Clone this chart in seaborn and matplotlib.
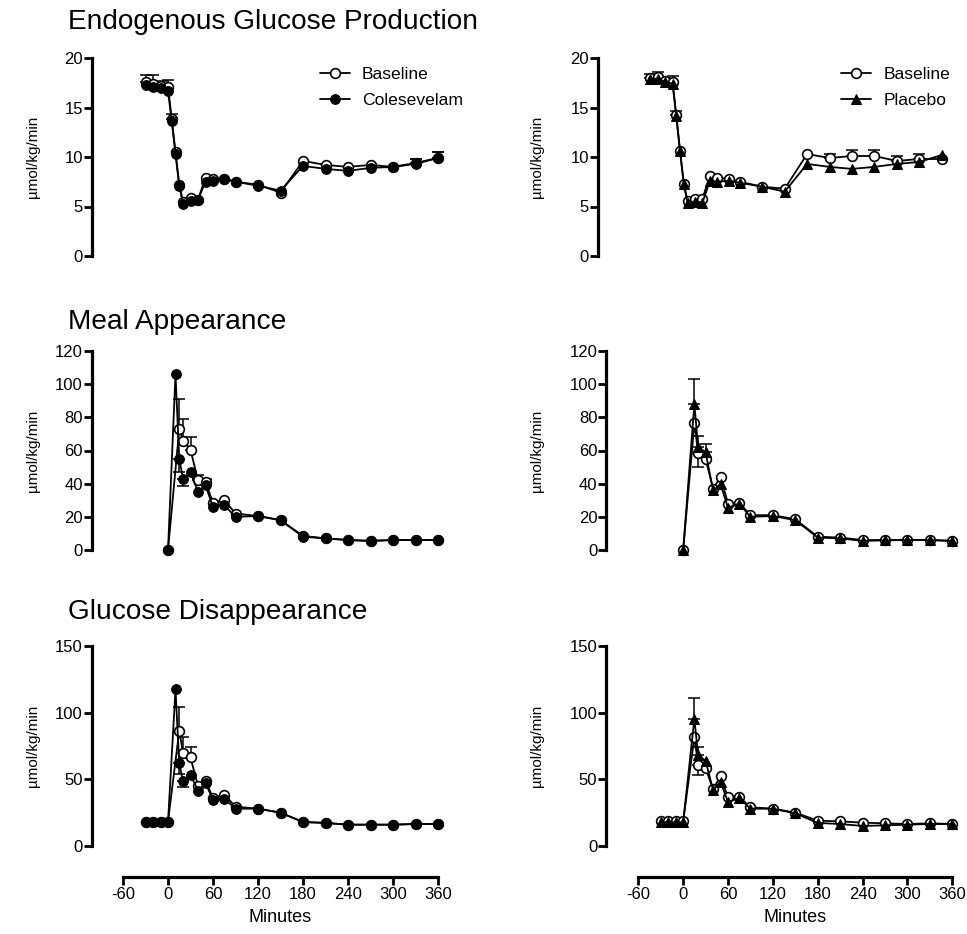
import numpy as np
import pandas as pd
import matplotlib
matplotlib.use("Agg")
import matplotlib.pyplot as plt
import seaborn as sns

# ---------------- data ----------------
t_egp = [-30, -20, -10, 0, 5, 10, 15, 20, 30, 40, 50, 60, 75, 90, 120, 150, 180, 210, 240, 270, 300, 330, 360]
egp_base_L = [17.6, 17.4, 17.2, 17.1, 13.8, 10.5, 7.2, 5.5, 5.9, 5.7, 7.9, 7.8, 7.8, 7.5, 7.2, 6.4, 9.6, 9.2, 9.0, 9.2, 9.0, 9.4, 9.9]
egp_base_L_err = [0.7, 0.9, 0.5, 0.7, 0.5, 0, 0, 0, 0, 0, 0, 0, 0, 0, 0, 0, 0, 0, 0, 0, 0, 0.4, 0.6]
egp_cole = [17.3, 17.1, 17.0, 16.7, 13.6, 10.3, 7.1, 5.3, 5.6, 5.7, 7.5, 7.6, 7.8, 7.5, 7.1, 6.6, 9.1, 8.8, 8.6, 8.9, 9.0, 9.3, 9.9]
egp_cole_err = [0] * 21 + [0.5, 0.6]

egp_base_R = [18.0, 18.1, 17.7, 17.6, 14.2, 10.6, 7.3, 5.6, 5.8, 5.8, 8.1, 7.9, 7.8, 7.5, 7.0, 6.8, 10.3, 9.9, 10.1, 10.1, 9.6, 9.8, 9.8]
egp_base_R_err = [0.4, 0.45, 0.3, 0.6, 0.4, 0, 0, 0, 0, 0, 0, 0, 0, 0, 0, 0, 0, 0.4, 0.6, 0.6, 0.5, 0.5, 0]
egp_plac = [17.9, 17.9, 17.6, 17.4, 14.1, 10.6, 7.3, 5.4, 5.5, 5.4, 7.6, 7.5, 7.6, 7.4, 7.0, 6.5, 9.3, 9.0, 8.8, 9.0, 9.3, 9.5, 10.2]

t_meal_cole = [0, 10, 15, 20, 30, 40, 50, 60, 75, 90, 120, 150, 180, 210, 240, 270, 300, 330, 360]
meal_cole = [0, 106, 55, 43, 47, 35, 39, 26, 27, 20, 20.5, 18, 8, 7, 6, 5.5, 6, 6, 6]
meal_cole_err_lo = [0, 0, 8, 4.5, 0, 0, 0, 0, 0, 0, 0, 0, 0, 0, 0, 0, 0, 0, 0]
t_meal_base_L = [0, 15, 20, 30, 40, 50, 60, 75, 90, 120, 150, 180, 210, 240, 270, 300, 330, 360]
meal_base_L = [0, 73, 66, 60.5, 42, 41, 28.5, 30, 22, 20.5, 18, 8.5, 7, 6, 5.5, 6, 6, 6]
meal_base_L_err = [0, 18, 13, 7.5, 3, 2, 0, 0, 0, 0, 0, 0, 0, 0, 0, 0, 0, 0]

t_meal_R = [0, 15, 20, 30, 40, 50, 60, 75, 90, 120, 150, 180, 210, 240, 270, 300, 330, 360]
meal_base_R = [0, 76.5, 58.5, 55, 37, 44, 28, 28.5, 21, 21, 18.5, 8, 7.5, 6, 6, 6.2, 6, 5.5]
meal_base_R_err_lo = [0, 0, 8.5, 0, 0, 0, 0, 0, 0, 0, 0, 0, 0, 0, 0, 0, 0, 0]
meal_plac = [0, 88, 62, 59, 36, 39.5, 25.5, 28, 20, 20.5, 18, 7.5, 7, 5.5, 5.8, 6, 6, 5.5]
meal_plac_err = [0, 15, 7, 5, 0, 0, 0, 0, 0, 0, 0, 0, 0, 0, 0, 0, 0, 0]

t_dis_cole = [-30, -20, -10, 0, 10, 15, 20, 30, 40, 50, 60, 75, 90, 120, 150, 180, 210, 240, 270, 300, 330, 360]
dis_cole = [18, 18, 18, 18, 117.5, 62, 48.5, 53.5, 41.5, 47, 34.8, 35.5, 28, 28, 25, 18, 17.3, 16, 16, 16, 16.5, 16.5]
dis_cole_err_lo = [0, 0, 0, 0, 0, 8, 4.5] + [0] * 15
t_dis_base_L = [-30, -20, -10, 0, 15, 20, 30, 40, 50, 60, 75, 90, 120, 150, 180, 210, 240, 270, 300, 330, 360]
dis_base_L = [18.2, 18.2, 18.2, 18.2, 86.5, 70, 66.5, 45, 49, 36, 38.5, 29.5, 28, 25, 18, 17.3, 16, 16, 16, 16.5, 16.5]
dis_base_L_err = [0, 0, 0, 0, 17.5, 12, 7.5] + [0] * 14

t_dis_R = [-30, -20, -10, 0, 15, 20, 30, 40, 50, 60, 75, 90, 120, 150, 180, 210, 240, 270, 300, 330, 360]
dis_base_R = [18.5, 18.5, 18.5, 18.5, 81.5, 61, 58.5, 42.5, 52.5, 36.5, 37, 29, 28, 25, 19, 18.5, 17.5, 17, 16.5, 17, 16.5]
dis_base_R_err_lo = [0, 0, 0, 0, 0, 8] + [0] * 15
dis_plac = [17.8, 17.8, 17.8, 17.8, 95.5, 68, 64, 42, 48, 33, 36, 28, 28, 24.5, 17.3, 16.5, 15, 15.5, 16, 16.5, 16.5]
dis_plac_err = [0, 0, 0, 0, 15.5, 6] + [0] * 15

titles = ["Endogenous Glucose Production", "Meal Appearance", "Glucose Disappearance"]
ylims = [(0, 20), (0, 120), (0, 150)]
yticks = [[0, 5, 10, 15, 20], [0, 20, 40, 60, 80, 100, 120], [0, 50, 100, 150]]
xticks = [-60, 0, 60, 120, 180, 240, 300, 360]
ylab = "\u00b5mol/kg/min"

# ---------------- style ----------------
sns.set_theme(style="ticks")
plt.rcParams['font.family'] = ['Liberation Sans', 'DejaVu Sans']
plt.rcParams['text.color'] = 'black'
plt.rcParams['axes.labelcolor'] = 'black'
plt.rcParams['xtick.color'] = 'black'
plt.rcParams['ytick.color'] = 'black'

W, H = 967, 934
fig = plt.figure(figsize=(W / 100, H / 100), dpi=100)


def px_axes(x0, x1, ytop, ybot):
    return fig.add_axes([x0 / W, (H - ybot) / H, (x1 - x0) / W, (ybot - ytop) / H])


rows_px = [(58, 256), (351, 550), (646, 846)]
axes = {}
for r, (yt, yb) in enumerate(rows_px):
    axes[(r, 0)] = px_axes(123, 438, yt, yb)
    if r == 0:
        axes[(r, 1)] = px_axes(627.7, 941.7, yt, yb)
    else:
        axes[(r, 1)] = px_axes(638.3, 952.3, yt, yb)

OPEN = dict(marker='o', markerfacecolor='white', markeredgecolor='black', markeredgewidth=1.2, markersize=7)
FILL = dict(marker='o', markerfacecolor='black', markeredgecolor='black', markersize=7)
TRI = dict(marker='^', markerfacecolor='black', markeredgecolor='black', markersize=7.5)


def series(ax, t, y, style, label, err_up=None, err_lo=None):
    t = np.asarray(t, float)
    y = np.asarray(y, float)
    up = np.zeros_like(y) if err_up is None else np.asarray(err_up, float)
    lo = np.zeros_like(y) if err_lo is None else np.asarray(err_lo, float)
    m = (up > 0) | (lo > 0)
    if m.any():
        ax.errorbar(t[m], y[m], yerr=[lo[m], up[m]], fmt='none', ecolor='black',
                    elinewidth=1.1, capsize=4.5, capthick=1.1, zorder=2, clip_on=False)
    df = pd.DataFrame({'Minutes': t, 'value': y})
    sns.lineplot(data=df, x='Minutes', y='value', ax=ax, color='black', linewidth=1.3,
                 label=label, clip_on=False, zorder=3, **style)


series(axes[(0, 0)], t_egp, egp_base_L, OPEN, 'Baseline', err_up=egp_base_L_err)
series(axes[(0, 0)], t_egp, egp_cole, FILL, 'Colesevelam', err_up=egp_cole_err)
series(axes[(0, 1)], t_egp, egp_base_R, OPEN, 'Baseline', err_up=egp_base_R_err)
series(axes[(0, 1)], t_egp, egp_plac, TRI, 'Placebo')

series(axes[(1, 0)], t_meal_base_L, meal_base_L, OPEN, 'Baseline', err_up=meal_base_L_err)
series(axes[(1, 0)], t_meal_cole, meal_cole, FILL, 'Colesevelam', err_lo=meal_cole_err_lo)
series(axes[(1, 1)], t_meal_R, meal_base_R, OPEN, 'Baseline', err_lo=meal_base_R_err_lo)
series(axes[(1, 1)], t_meal_R, meal_plac, TRI, 'Placebo', err_up=meal_plac_err)

series(axes[(2, 0)], t_dis_base_L, dis_base_L, OPEN, 'Baseline', err_up=dis_base_L_err)
series(axes[(2, 0)], t_dis_cole, dis_cole, FILL, 'Colesevelam', err_lo=dis_cole_err_lo)
series(axes[(2, 1)], t_dis_R, dis_base_R, OPEN, 'Baseline', err_lo=dis_base_R_err_lo)
series(axes[(2, 1)], t_dis_R, dis_plac, TRI, 'Placebo', err_up=dis_plac_err)

for (r, c), ax in axes.items():
    ax.set_xlim(-60, 360)
    ax.set_ylim(*ylims[r])
    ax.set_yticks(yticks[r])
    ax.set_ylabel('')
    ax.set_xlabel('')
    for s in ['top', 'right']:
        ax.spines[s].set_visible(False)
    ax.spines['left'].set_linewidth(2.3)
    ax.spines['left'].set_color('black')
    off_pt = {(0, 0): 22.3, (1, 0): 22.3, (2, 0): 22.3, (0, 1): 21.4, (1, 1): 23.0, (2, 1): 23.0}[(r, c)]
    ax.spines['left'].set_position(('outward', off_pt))
    ax.tick_params(axis='y', length=6, width=2.0, direction='out', labelsize=12, pad=0.5, colors='black')
    if r < 2:
        ax.spines['bottom'].set_visible(False)
        ax.set_xticks([])
    else:
        ax.set_xticks(xticks)
        ax.set_xticklabels([str(v) for v in xticks])
        ax.spines['bottom'].set_linewidth(2.3)
        ax.spines['bottom'].set_color('black')
        ax.spines['bottom'].set_position(('outward', 22.3))
        ax.tick_params(axis='x', length=6, width=2.0, direction='out', labelsize=12, pad=1.5, colors='black')
    ax.set_facecolor('white')
    if r == 0:
        leg = ax.legend(loc='upper left', bbox_to_anchor=(0.625 if c == 0 else 0.68, 0.955), frameon=False,
                        fontsize=12.6, handlelength=1.7, handletextpad=0.7, labelspacing=0.6,
                        borderpad=0, borderaxespad=0)
        for txt in leg.get_texts():
            txt.set_color('black')
    else:
        leg = ax.get_legend()
        if leg is not None:
            leg.remove()

# titles
for r, y in enumerate([22, 322, 612]):
    fig.text(68 / W, 1 - y / H, titles[r], fontsize=20.2, ha='left', va='center', color='black')

# y labels
for r, (yt, yb) in enumerate(rows_px):
    yc = 1 - (yt + yb) / 2 / H
    fig.text(33 / W, yc, ylab, rotation=90, fontsize=11, ha='center', va='center', color='black')
    fig.text(537 / W, yc, ylab, rotation=90, fontsize=11, ha='center', va='center', color='black')

# x labels
fig.text(280 / W, 1 - 917 / H, 'Minutes', fontsize=13, ha='center', va='center', color='black')
fig.text(795 / W, 1 - 917 / H, 'Minutes', fontsize=13, ha='center', va='center', color='black')

fig.savefig('out.png', dpi=100, facecolor='white')
